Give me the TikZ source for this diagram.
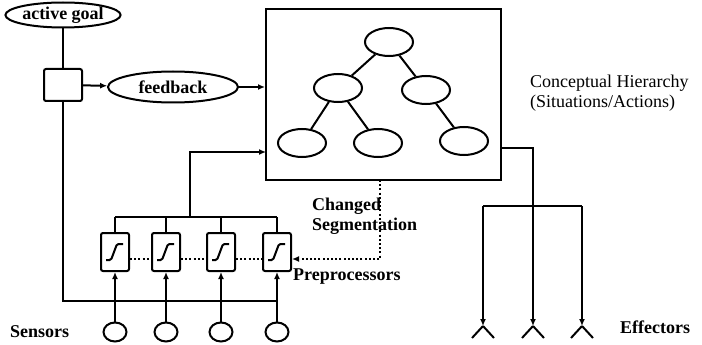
\documentclass[tikz,border=0pt]{standalone}
\usepackage{fontspec}
\setmainfont{Liberation Serif}
\usetikzlibrary{positioning,arrows.meta,shapes.geometric,calc}
\tikzset{
  wire/.style={line width=2pt},
  arr/.style={wire, -{Latex[length=7pt,width=6pt]}},
  dotw/.style={line width=1.6pt, dash pattern=on 2pt off 2.2pt},
  oval/.style={ellipse, draw, line width=2pt, inner sep=0pt, minimum width=#1, minimum height=28pt},
  oval/.default=48pt,
  prepbox/.style={draw, line width=2pt, rounded corners=2pt, minimum width=28pt, minimum height=38pt, inner sep=0pt},
  sensor/.style={ellipse, draw, line width=2pt, minimum width=23pt, minimum height=19pt, inner sep=0pt},
  lbl/.style={font=\fontsize{18}{20}\selectfont\bfseries, inner sep=0pt},
  plainlbl/.style={font=\fontsize{18}{20}\selectfont, inner sep=0pt, align=left},
}
\begin{document}
\begin{tikzpicture}[x=1pt,y=-1pt]
    \useasboundingbox (0,0) rectangle (702,345);
    % goal and feedback
    \node[oval=110pt, minimum height=25pt, lbl] (goal) at (63,15) {active goal};
    \node[draw, line width=2pt, rounded corners=2pt, minimum width=38pt, minimum height=32pt] (gbox) at (63,85) {};
    \node[oval=130pt, minimum height=31pt, lbl] (fb) at (173,87) {feedback};
    \draw[wire] (goal) -- (gbox);
    \draw[arr] (gbox) -- (fb);
    % conceptual hierarchy
    \node[draw, line width=2pt, minimum width=235pt, minimum height=171pt, inner sep=0pt] (hier) at (383.5,94.5) {};
    \node[oval] (root) at (389,42) {};
    \node[oval] (ml) at (338,88) {};
    \node[oval] (mr) at (426,90) {};
    \node[oval] (bl) at (302,143) {};
    \node[oval] (bm) at (378,143) {};
    \node[oval] (br) at (464,141) {};
    \draw[wire] (root) -- (ml);
    \draw[wire] (root) -- (mr);
    \draw[wire] (ml) -- (bl);
    \draw[wire] (ml) -- (bm);
    \draw[wire] (mr) -- (br);
    \draw[arr] (fb) -- (hier.west |- fb.east);
    \node[plainlbl, anchor=north west] (chtxt) at (530,75) {Conceptual Hierarchy\\(Situations/Actions)};
    % preprocessors and sensors
    \coordinate (bus) at (190,217);
    \coordinate (inb) at (266,152);
    \coordinate (sbus) at (63,301);
    \foreach \i/\x in {1/115,2/166,3/221,4/277} {
      \node[prepbox] (p\i) at (\x,252) {};
      \draw[wire, rounded corners=1.5pt] ($(p\i)+(-9,8)$) -- ($(p\i)+(-4,8)$) -- ($(p\i)+(2,-8)$) -- ($(p\i)+(8,-8)$);
      \node[sensor] (s\i) at (\x,332) {};
      \draw[arr] (s\i) -- (p\i);
      \draw[wire] (p\i.north) -- (p\i.north |- bus);
    }
    \draw[wire] (p1.north |- bus) -- (p4.north |- bus);
    \draw[arr] (bus) |- (inb);
    \draw[wire] (gbox) |- (p4.south |- sbus);
    \foreach \i/\j in {1/2,2/3,3/4}
      \draw[dotw] ([yshift=-7pt]p\i.east) -- ([yshift=-7pt]p\j.west);
    \coordinate (segtop) at (380,180);
    \draw[dotw, -{Latex[length=7pt,width=6pt]}] (segtop) |- ([yshift=-7pt]p4.east);
    \node[lbl, anchor=north west, align=left] (segtxt) at (312,198) {Changed\\Segmentation};
    \node[lbl, anchor=west] (preptxt) at (293,277) {Preprocessors};
    \node[lbl, anchor=west] (senstxt) at (10,332) {Sensors};
    % effectors
    \coordinate (hout) at (501,148);
    \coordinate (ebus) at (533,206);
    \draw[wire] (hout) -| (ebus);
    \draw[wire] (483,206) -- (582,206);
    \foreach \i/\x in {1/483,2/533,3/582} {
      \coordinate (e\i) at (\x,326);
      \draw[arr] (\x,206) -- (e\i);
      \draw[wire] (e\i) -- ++(-11,12);
      \draw[wire] (e\i) -- ++(11,12);
    }
    \node[lbl, anchor=west] (efftxt) at (620,327) {Effectors};
\end{tikzpicture}
\end{document}
